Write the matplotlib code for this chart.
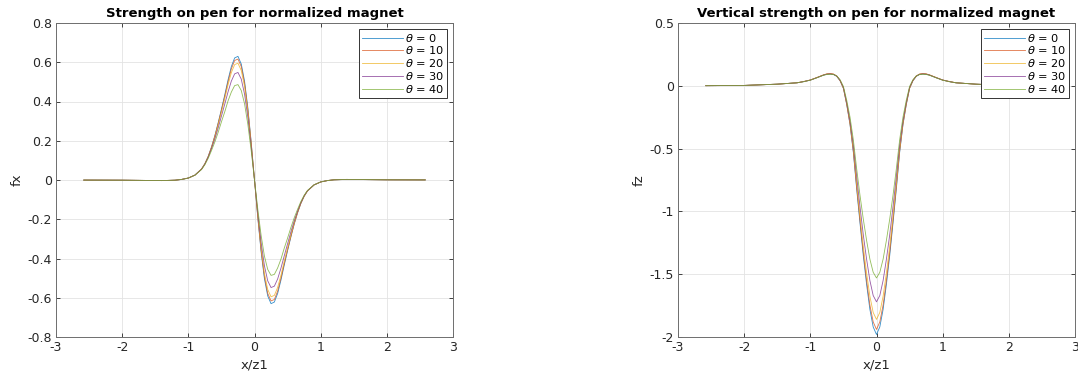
import matplotlib
matplotlib.use("Agg")
import matplotlib.pyplot as plt

plt.rcParams["font.family"] = ["DejaVu Sans"]
plt.rcParams["axes.unicode_minus"] = False
plt.rcParams["mathtext.fontset"] = "dejavusans"

# Pen angles (degrees) and series colours
thetas = [0, 10, 20, 30, 40]
colors = ["#0072BD", "#D95319", "#EDB120", "#7E2F8E", "#77AC30"]

# Horizontal force fx against x/z1
x_fx = [-2.58, -2.0, -1.7, -1.4, -1.2, -1.1, -1.0, -0.9, -0.8, -0.75, -0.7, -0.65,
        -0.6, -0.55, -0.5, -0.45, -0.4, -0.35, -0.3, -0.25, -0.2, -0.15, -0.1, -0.05,
        0.0, 0.05, 0.1, 0.15, 0.2, 0.25, 0.3, 0.35, 0.4, 0.45, 0.5, 0.55, 0.6, 0.65,
        0.7, 0.75, 0.8, 0.9, 1.0, 1.1, 1.2, 1.4, 1.7, 2.0, 2.58]

fx_t0 = [-0.0005, -0.001, -0.002, -0.003, -0.001, 0.003, 0.010, 0.025, 0.056, 0.083, 0.120, 0.168,
         0.225, 0.290, 0.360, 0.433, 0.510, 0.578, 0.622, 0.630, 0.591, 0.503, 0.366, 0.193,
         0.0, -0.193, -0.366, -0.503, -0.591, -0.630, -0.622, -0.578, -0.510, -0.433, -0.360, -0.290,
         -0.225, -0.168, -0.120, -0.083, -0.056, -0.025, -0.010, -0.003, 0.001, 0.003, 0.002, 0.001, 0.0005]
fx_t10 = [-0.0005, -0.001, -0.002, -0.003, -0.001, 0.003, 0.010, 0.025, 0.056, 0.083, 0.119, 0.167,
          0.223, 0.287, 0.355, 0.426, 0.500, 0.566, 0.609, 0.616, 0.578, 0.492, 0.358, 0.189,
          0.0, -0.189, -0.358, -0.492, -0.578, -0.616, -0.609, -0.566, -0.500, -0.426, -0.355, -0.287,
          -0.223, -0.167, -0.119, -0.083, -0.056, -0.025, -0.010, -0.003, 0.001, 0.003, 0.002, 0.001, 0.0005]
fx_t20 = [-0.0005, -0.001, -0.002, -0.003, -0.001, 0.003, 0.010, 0.025, 0.0555, 0.082, 0.118, 0.165,
          0.218, 0.280, 0.346, 0.413, 0.485, 0.547, 0.588, 0.595, 0.558, 0.475, 0.346, 0.182,
          0.0, -0.182, -0.346, -0.475, -0.558, -0.595, -0.588, -0.547, -0.485, -0.413, -0.346, -0.280,
          -0.218, -0.165, -0.118, -0.082, -0.0555, -0.025, -0.010, -0.003, 0.001, 0.003, 0.002, 0.001, 0.0005]
fx_t30 = [-0.0005, -0.001, -0.002, -0.003, -0.001, 0.003, 0.010, 0.025, 0.055, 0.081, 0.116, 0.160,
          0.208, 0.264, 0.325, 0.386, 0.449, 0.504, 0.541, 0.548, 0.514, 0.437, 0.318, 0.168,
          0.0, -0.168, -0.318, -0.437, -0.514, -0.548, -0.541, -0.504, -0.449, -0.386, -0.325, -0.264,
          -0.208, -0.160, -0.116, -0.081, -0.055, -0.025, -0.010, -0.003, 0.001, 0.003, 0.002, 0.001, 0.0005]
fx_t40 = [-0.0005, -0.001, -0.002, -0.003, -0.001, 0.003, 0.010, 0.0245, 0.0535, 0.078, 0.110, 0.150,
          0.193, 0.242, 0.296, 0.347, 0.403, 0.448, 0.481, 0.486, 0.456, 0.388, 0.282, 0.149,
          0.0, -0.149, -0.282, -0.388, -0.456, -0.486, -0.481, -0.448, -0.403, -0.347, -0.296, -0.242,
          -0.193, -0.150, -0.110, -0.078, -0.0535, -0.0245, -0.010, -0.003, 0.001, 0.003, 0.002, 0.001, 0.0005]

# Vertical force fz against x/z1
x_fz = [-2.58, -2.0, -1.5, -1.2, -1.1, -1.0, -0.9, -0.8, -0.75, -0.7, -0.65, -0.6,
        -0.55, -0.5, -0.45, -0.4, -0.35, -0.3, -0.25, -0.2, -0.15, -0.1, -0.05,
        0.0, 0.05, 0.1, 0.15, 0.2, 0.25, 0.3, 0.35, 0.4, 0.45, 0.5, 0.55, 0.6,
        0.65, 0.7, 0.75, 0.8, 0.9, 1.0, 1.1, 1.2, 1.5, 2.0, 2.58]

fz_t0 = [0.001, 0.003, 0.013, 0.024, 0.033, 0.045, 0.065, 0.085, 0.092, 0.094, 0.090, 0.075,
         0.040, -0.02, -0.15, -0.31, -0.53, -0.82, -1.09, -1.35, -1.58, -1.78, -1.92,
         -1.98, -1.92, -1.78, -1.58, -1.35, -1.09, -0.82, -0.53, -0.31, -0.15, -0.02, 0.040, 0.075,
         0.090, 0.094, 0.092, 0.085, 0.065, 0.045, 0.033, 0.024, 0.013, 0.003, 0.001]
fz_t10 = [0.001, 0.003, 0.013, 0.024, 0.034, 0.046, 0.066, 0.087, 0.095, 0.097, 0.093, 0.077,
          0.041, -0.02, -0.147, -0.305, -0.52, -0.805, -1.07, -1.325, -1.55, -1.745, -1.88,
          -1.94, -1.88, -1.745, -1.55, -1.325, -1.07, -0.805, -0.52, -0.305, -0.147, -0.02, 0.041, 0.077,
          0.093, 0.097, 0.095, 0.087, 0.066, 0.046, 0.034, 0.024, 0.013, 0.003, 0.001]
fz_t20 = [0.001, 0.003, 0.013, 0.024, 0.034, 0.046, 0.066, 0.087, 0.094, 0.097, 0.093, 0.077,
          0.042, -0.017, -0.142, -0.295, -0.50, -0.775, -1.03, -1.275, -1.49, -1.675, -1.805,
          -1.86, -1.805, -1.675, -1.49, -1.275, -1.03, -0.775, -0.50, -0.295, -0.142, -0.017, 0.042, 0.077,
          0.093, 0.097, 0.094, 0.087, 0.066, 0.046, 0.034, 0.024, 0.013, 0.003, 0.001]
fz_t30 = [0.001, 0.003, 0.013, 0.024, 0.034, 0.046, 0.065, 0.086, 0.093, 0.095, 0.092, 0.077,
          0.043, -0.013, -0.135, -0.28, -0.47, -0.72, -0.96, -1.185, -1.38, -1.55, -1.67,
          -1.72, -1.67, -1.55, -1.38, -1.185, -0.96, -0.72, -0.47, -0.28, -0.135, -0.013, 0.043, 0.077,
          0.092, 0.095, 0.093, 0.086, 0.065, 0.046, 0.034, 0.024, 0.013, 0.003, 0.001]
fz_t40 = [0.001, 0.003, 0.013, 0.024, 0.033, 0.045, 0.064, 0.084, 0.090, 0.092, 0.090, 0.078,
          0.048, -0.005, -0.115, -0.25, -0.43, -0.66, -0.87, -1.06, -1.23, -1.38, -1.485,
          -1.53, -1.485, -1.38, -1.23, -1.06, -0.87, -0.66, -0.43, -0.25, -0.115, -0.005, 0.048, 0.078,
          0.090, 0.092, 0.090, 0.084, 0.064, 0.045, 0.033, 0.024, 0.013, 0.003, 0.001]

fx_series = [fx_t0, fx_t10, fx_t20, fx_t30, fx_t40]
fz_series = [fz_t0, fz_t10, fz_t20, fz_t30, fz_t40]

x_ticks = [-3, -2, -1, 0, 1, 2, 3]
fx_ticks = [-0.8, -0.6, -0.4, -0.2, 0, 0.2, 0.4, 0.6, 0.8]
fx_ticklabels = ["-0.8", "-0.6", "-0.4", "-0.2", "0", "0.2", "0.4", "0.6", "0.8"]
fz_ticks = [-2, -1.5, -1, -0.5, 0, 0.5]
fz_ticklabels = ["-2", "-1.5", "-1", "-0.5", "0", "0.5"]

W, H = 1078, 374
fig = plt.figure(figsize=(W / 100, H / 100), dpi=100)

axis_col = "#262626"


def style(ax, ylim, yticks, ylabels, title, ylabel):
    ax.set_xlim(-3, 3)
    ax.set_ylim(*ylim)
    ax.set_xticks(x_ticks)
    ax.set_xticklabels([str(t) for t in x_ticks])
    ax.set_yticks(yticks)
    ax.set_yticklabels(ylabels)
    ax.grid(True, color="#e3e3e3", linewidth=0.6)
    ax.set_axisbelow(True)
    ax.tick_params(direction="in", length=3, width=0.6, colors=axis_col,
                   labelsize=9, top=True, right=True, pad=3)
    for sp in ax.spines.values():
        sp.set_color("#6e6e6e")
        sp.set_linewidth(0.7)
    ax.set_title(title, fontsize=9.5, fontweight="bold", color="black", pad=4)
    ax.set_xlabel("x/z1", fontsize=9.5, color=axis_col, labelpad=3)
    ax.set_ylabel(ylabel, fontsize=9.5, color=axis_col, labelpad=3)
    leg = ax.legend(loc="upper right", fontsize=8.2, handlelength=3.6,
                    handletextpad=0.2, labelspacing=0.08, borderpad=0.25,
                    borderaxespad=0.5, fancybox=False, framealpha=1)
    leg.get_frame().set_edgecolor("#333333")
    leg.get_frame().set_linewidth(0.7)


ax1 = fig.add_axes([56 / W, 37 / H, 397 / W, 314 / H])
for th, ys, c in zip(thetas, fx_series, colors):
    ax1.plot(x_fx, ys, color=c, linewidth=0.6, alpha=0.8, label=rf"$\theta$ = {th}")
style(ax1, (-0.8, 0.8), fx_ticks, fx_ticklabels,
      "Strength on pen for normalized magnet", "fx")

ax2 = fig.add_axes([678 / W, 37 / H, 397 / W, 314 / H])
for th, ys, c in zip(thetas, fz_series, colors):
    ax2.plot(x_fz, ys, color=c, linewidth=0.6, alpha=0.8, label=rf"$\theta$ = {th}")
style(ax2, (-2, 0.5), fz_ticks, fz_ticklabels,
      "Vertical strength on pen for normalized magnet", "fz")

fig.savefig("out.png", dpi=100, facecolor="white")
